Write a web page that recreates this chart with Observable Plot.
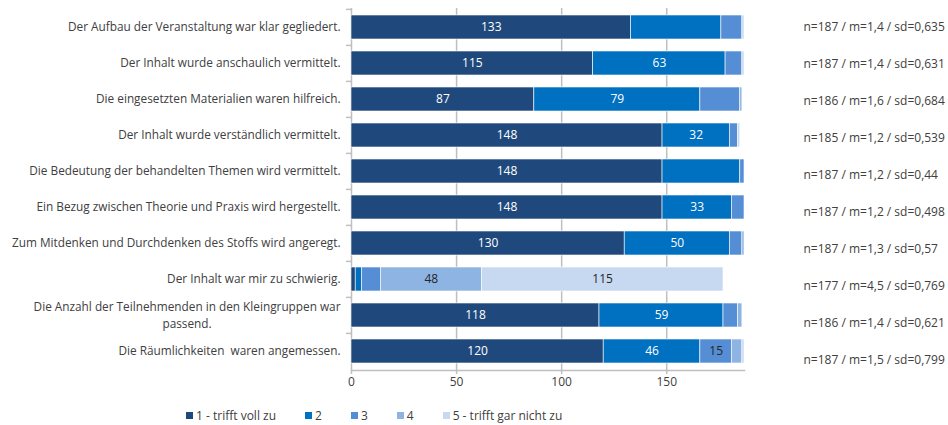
<!DOCTYPE html>
<html>
<head>
<meta charset="utf-8">
<script src="https://cdn.jsdelivr.net/npm/d3@7"></script>
<script src="https://cdn.jsdelivr.net/npm/@observablehq/plot@0.6"></script>
<style>
  body { margin: 0; background: #fff; font-family: "Open Sans", sans-serif; }
  #wrap { position: relative; width: 948px; height: 425px; }
  #main, #stats { position: absolute; top: 0; }
  #main { left: 0; }
  #stats { left: 790px; }
  #legend { position: absolute; top: 408px; left: 186px; display: flex; gap: 29px;
            font-size: 12px; color: #404040; line-height: 15px; }
  .item { display: flex; align-items: center; }
  .sw { width: 7px; height: 7px; margin-right: 3px; }
</style>
</head>
<body>
<div id="wrap">
  <div id="main"></div>
  <div id="stats"></div>
  <div id="legend"></div>
</div>
<script>
const items = [
  "Der Aufbau der Veranstaltung war klar gegliedert.",
  "Der Inhalt wurde anschaulich vermittelt.",
  "Die eingesetzten Materialien waren hilfreich.",
  "Der Inhalt wurde verständlich vermittelt.",
  "Die Bedeutung der behandelten Themen wird vermittelt.",
  "Ein Bezug zwischen Theorie und Praxis wird hergestellt.",
  "Zum Mitdenken und Durchdenken des Stoffs wird angeregt.",
  "Der Inhalt war mir zu schwierig.",
  "Die Anzahl der Teilnehmenden in den Kleingruppen war\npassend.",
  "Die Räumlichkeiten  waren angemessen."
];
const categories = ["1 - trifft voll zu", "2", "3", "4", "5 - trifft gar nicht zu"];
const colors = ["#1F497D", "#0070C0", "#558ED5", "#8EB4E3", "#C6D9F1"];
const cat1 = [133, 115, 87, 148, 148, 148, 130, 2, 118, 120];
const cat2 = [43, 63, 79, 32, 37, 33, 50, 3, 59, 46];
const cat3 = [10, 8, 19, 4, 2, 6, 6, 9, 7, 15];
const cat4 = [0, 0, 1, 0, 0, 0, 1, 48, 2, 5];
const cat5 = [1, 1, 0, 1, 0, 0, 0, 115, 0, 1];
const stats = [
  "n=187 / m=1,4 / sd=0,635",
  "n=187 / m=1,4 / sd=0,631",
  "n=186 / m=1,6 / sd=0,684",
  "n=185 / m=1,2 / sd=0,539",
  "n=187 / m=1,2 / sd=0,44",
  "n=187 / m=1,2 / sd=0,498",
  "n=187 / m=1,3 / sd=0,57",
  "n=177 / m=4,5 / sd=0,769",
  "n=186 / m=1,4 / sd=0,621",
  "n=187 / m=1,5 / sd=0,799"
];
const xTicks = [0, 50, 100, 150];
// value labels hidden in the original (item index, category index)
const hiddenLabels = [[0, 1], [2, 2], [4, 1]];

const series = [cat1, cat2, cat3, cat4, cat5];
const data = [];
items.forEach((item, i) => {
  series.forEach((s, c) => {
    const hidden = hiddenLabels.some(([hi, hc]) => hi === i && hc === c);
    data.push({item, cat: categories[c], ci: c, value: s[i], show: s[i] >= 15 && !hidden});
  });
});

const font = '"Open Sans", sans-serif';
const labelSize = 11.8;
const grey = "#404040";
const gridColor = "#BFBFBF";

const W = 948, H = 395, mL = 351, mR = 204, mT = 8, mB = 25;
const step = (H - mT - mB) / items.length;

// measure first line of wrapped label to centre second line under it
const ctx = document.createElement("canvas").getContext("2d");
ctx.font = `${labelSize}px ${font}`;

const plain = items.filter(d => !d.includes("\n"));
const wrapped = items.filter(d => d.includes("\n"));
const firstLineWidth = ctx.measureText(wrapped[0].split("\n")[0]).width;

const stackOpts = (extra) => Plot.stackX({x: "value", y: "item", z: "cat", order: categories, ...extra});

const main = Plot.plot({
  width: W, height: H,
  marginLeft: mL, marginRight: mR, marginTop: mT, marginBottom: mB,
  style: {fontFamily: font, fontSize: "12px", color: grey, background: "#fff"},
  x: {domain: [0, 187], axis: null},
  y: {type: "band", domain: items, paddingInner: 0.34, paddingOuter: 0.17, axis: null},
  color: {domain: categories, range: colors},
  marks: [
    Plot.gridX(xTicks, {stroke: gridColor, strokeOpacity: 1, strokeWidth: 1.5}),
    Plot.frame({anchor: "bottom", stroke: gridColor, strokeWidth: 1.5}),
    Plot.axisX({ticks: xTicks, tickSize: 4, tickPadding: 3, stroke: gridColor, strokeWidth: 1.5, fill: grey, fontSize: 12, label: null}),
    Plot.axisY({tickSize: 5, tickFormat: () => "", stroke: gridColor, strokeWidth: 1.5, dy: -step / 2, label: null}),
    Plot.barX(data, stackOpts({fill: "cat", stroke: "white", strokeWidth: 0.6})),
    Plot.text(data, stackOpts({text: d => d.show && d.ci < 2 ? String(d.value) : null, fill: "white", fontSize: 12})),
    Plot.text(data, stackOpts({text: d => d.show && d.ci >= 2 ? String(d.value) : null, fill: "#262626", fontSize: 12})),
    Plot.text(plain, {y: d => d, text: d => d, frameAnchor: "left", textAnchor: "end", dx: -11, fill: grey, fontSize: labelSize}),
    Plot.text(wrapped, {y: d => d, text: d => d.split("\n")[0], frameAnchor: "left", textAnchor: "end",
      dx: -11, dy: -8, fill: grey, fontSize: labelSize}),
    Plot.text(wrapped, {y: d => d, text: d => d.split("\n")[1], frameAnchor: "left", textAnchor: "middle",
      dx: -(11 + firstLineWidth / 2), dy: 8.5, fill: grey, fontSize: labelSize})
  ]
});
document.getElementById("main").appendChild(main);

const statPlot = Plot.plot({
  width: 158, height: H,
  marginLeft: 13, marginRight: 0, marginTop: 6.3, marginBottom: 15.3,
  style: {fontFamily: font, fontSize: "12px", color: grey, background: "transparent"},
  y: {type: "band", domain: items, padding: 0, axis: null},
  marks: [
    Plot.text(items, {y: d => d, text: (d, i) => stats[i], frameAnchor: "left", textAnchor: "start", fill: grey, fontSize: 12})
  ]
});
document.getElementById("stats").appendChild(statPlot);

const legend = d3.select("#legend");
categories.forEach((c, i) => {
  const it = legend.append("div").attr("class", "item");
  it.append("div").attr("class", "sw").style("background", colors[i]);
  it.append("span").text(c);
});
</script>
</body>
</html>
